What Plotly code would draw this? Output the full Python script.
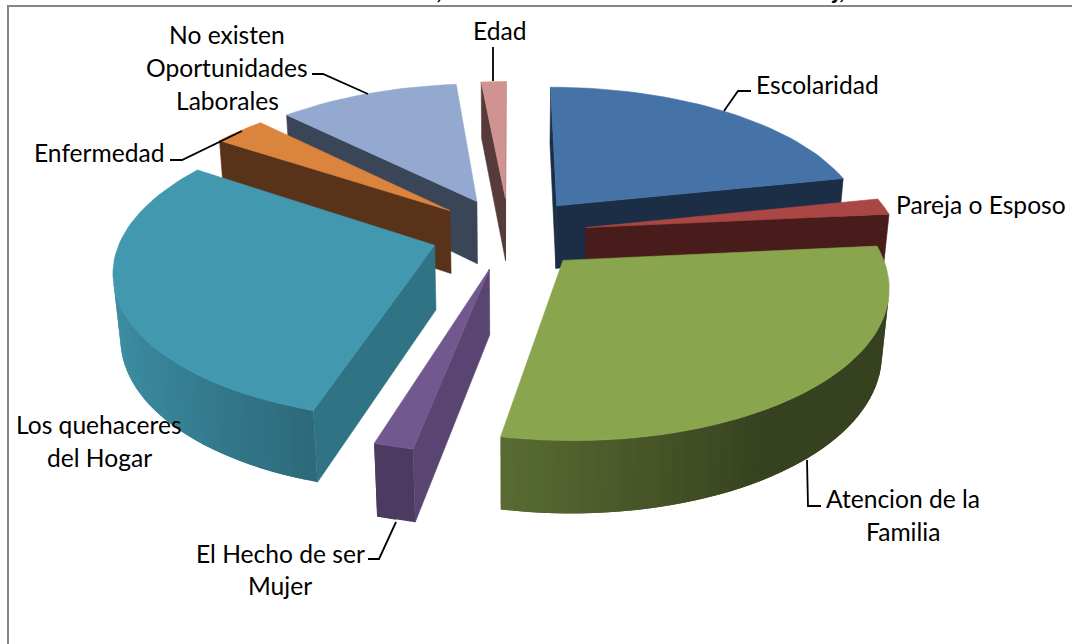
#!/usr/bin/env python3
"""Exploded 3D pie drawn as projected polygons on a pixel-sized cartesian plot."""
import numpy as np
import plotly.graph_objects as go

# percentages, clockwise from 12 o'clock
categories = ["Escolaridad", "Pareja o Esposo", "Atencion de la Familia",
              "El Hecho de ser Mujer", "Los quehaceres del Hogar", "Enfermedad",
              "No existen Oportunidades Laborales", "Edad"]
values = [21.7, 1.8, 29.6, 1.7, 29.6, 3.2, 11.0, 1.5]
top_colors = ["#4573A7", "#AA4643", "#89A54E", "#71588F",
              "#4198AF", "#DB843D", "#93A9CF", "#D19392"]
radial_colors = ["#1B2E46", "#471C1A", "#36421F", "#5A4572",
                 "#2F7384", "#58331A", "#3A4557", "#563B3A"]
rim_dark = ["#1B2E46", "#471C1A", None, "#4D3A60",
            None, "#58331A", "#3A4557", "#563B3A"]

# label text, one line per entry, with line centre in page pixels
label_lines = [
    ("Edad", 499, 30), ("No existen", 227, 34), ("Oportunidades", 227, 67),
    ("Laborales", 227, 100), ("Escolaridad", 817, 84), ("Enfermedad", 99, 152),
    ("Pareja o Esposo", 981, 204), ("Los quehaceres", 99, 424), ("del Hogar", 99, 457),
    ("Atencion de la", 903, 498), ("Familia", 903, 531),
    ("El Hecho de ser", 280, 553), ("Mujer", 280, 585),
]
leaders = [
    ([493, 493], [47, 81]),
    ([312, 323, 368], [74, 74, 94]),
    ([170, 182, 242], [160, 160, 131]),
    ([751, 738, 724], [91, 91, 111]),
    ([807, 808, 821], [460, 506, 506]),
    ([396, 379, 368], [522, 559, 559]),
]

W, H = 1072, 644
CX, CY = 509, 233      # undisplaced pie centre
F = 312                # radius in px at centre depth
SIN_E, COS_E = 0.4615, 0.887
D = 5.9                # camera distance in pie radii
EXPLODE = 0.25
THICK = 0.235


def project(x, y, z):
    depth = 1 + (y * COS_E - z * SIN_E) / D
    return CX + F * x / depth, CY - F * (y * SIN_E + z * COS_E) / depth


def hex_rgb(c):
    return tuple(int(c[i:i + 2], 16) for i in (1, 3, 5))


def shade(c, f):
    return "rgb(%d,%d,%d)" % tuple(min(255, v * f) for v in hex_rgb(c))


def area(pts):
    n = len(pts)
    return 0.5 * sum(pts[i][0] * pts[(i + 1) % n][1] - pts[(i + 1) % n][0] * pts[i][1]
                     for i in range(n))


def poly(fig, pts, color, width=0.6):
    xs = [p[0] for p in pts]
    ys = [p[1] for p in pts]
    fig.add_trace(go.Scatter(x=xs + xs[:1], y=ys + ys[:1], mode="lines", fill="toself",
                             fillcolor=color, line=dict(color=color, width=width),
                             hoverinfo="skip", showlegend=False))


def draw_slice(fig, i, a0, a1):
    mid = (a0 + a1) / 2
    ox, oy = EXPLODE * np.sin(mid), EXPLODE * np.cos(mid)
    angs = np.linspace(a0, a1, max(3, int((a1 - a0) / np.radians(2))))
    rim_x = ox + np.sin(angs)
    rim_y = oy + np.cos(angs)

    # radial walls; keep whichever faces the camera
    for a, sign in ((a0, 1), (a1, -1)):
        rx, ry = ox + np.sin(a), oy + np.cos(a)
        quad = [project(ox, oy, 0), project(rx, ry, 0),
                project(rx, ry, -THICK), project(ox, oy, -THICK)]
        if area(quad) * sign < 0:
            poly(fig, quad, radial_colors[i])

    # outer wall, split so the shading can follow the angle; each piece runs
    # on under the next one so that no seams show between them
    for j in range(len(angs) - 1):
        k = min(j + 2, len(angs) - 1)
        quad = [project(rim_x[j], rim_y[j], 0), project(rim_x[k], rim_y[k], 0),
                project(rim_x[k], rim_y[k], -THICK), project(rim_x[j], rim_y[j], -THICK)]
        if area(quad) >= 0:
            continue
        if rim_dark[i]:
            color = rim_dark[i]
        else:
            nx = np.sin((angs[j] + angs[j + 1]) / 2)
            color = shade(top_colors[i], max(0.40, 0.59 - 0.36 * nx))
        poly(fig, quad, color, width=0)

    top = [project(ox, oy, 0)] + [project(x, y, 0) for x, y in zip(rim_x, rim_y)]
    poly(fig, top, top_colors[i])


fig = go.Figure()
edges = np.radians(np.cumsum([0] + values) / sum(values) * 360)
mids = (edges[:-1] + edges[1:]) / 2
# paint from the back of the pie to the front
for i in np.argsort(-np.cos(mids)):
    draw_slice(fig, int(i), edges[i], edges[i + 1])

for lx, ly in leaders:
    fig.add_trace(go.Scatter(x=lx, y=ly, mode="lines", line=dict(color="#000000", width=1.8),
                             hoverinfo="skip", showlegend=False))

for text, x, y in label_lines:
    fig.add_annotation(x=x, y=y, text=text, showarrow=False, xanchor="center", yanchor="middle",
                       font=dict(family="Lato, Carlito, sans-serif", size=24.6, color="#000000"))
# the bottoms of the cut-off title are all that is left of it
for text, x in ((",", 440), ("j,", 838)):
    fig.add_annotation(x=x, y=0, yshift=11, text="<b><i>%s</i></b>" % text, showarrow=False,
                       font=dict(family="Lato, sans-serif", size=24, color="#000000"))

# chart frame, its right and bottom sides are cut off by the picture
fig.add_shape(type="rect", x0=8, y0=6, x1=1100, y1=700, line=dict(color="#868686", width=2),
              fillcolor="rgba(0,0,0,0)", layer="below")

fig.update_xaxes(range=[0, W], visible=False, fixedrange=True)
fig.update_yaxes(range=[H, 0], visible=False, fixedrange=True)
fig.update_layout(width=W, height=H, margin=dict(l=0, r=0, t=0, b=0),
                  paper_bgcolor="#FFFFFF", plot_bgcolor="#FFFFFF", showlegend=False)

fig.write_html("out.html", config={"displayModeBar": False},
               post_script="document.body.style.margin='0';document.body.style.overflow='hidden';")
